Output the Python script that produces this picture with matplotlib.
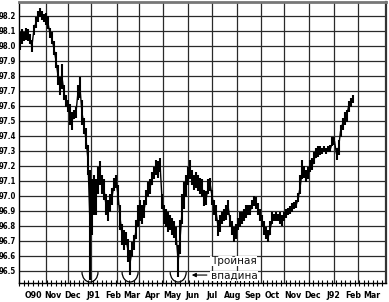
import numpy as np
import pandas as pd
import matplotlib
matplotlib.use("Agg")
import matplotlib.pyplot as plt
import matplotlib.dates as mdates
from matplotlib.patches import Arc

# ---- data (high / low of each bar) ----
highs = [98.09, 98.11, 98.09, 98.12, 98.11, 98.08, 98.04, 98.14, 98.19, 98.23,
         98.25, 98.23, 98.21, 98.22, 98.20, 98.12, 98.09, 98.03, 97.96, 97.87,
         97.79, 97.88, 97.74, 97.67, 97.64, 97.61, 97.56, 97.57, 97.59, 97.74,
         97.79, 97.64, 97.52, 97.45, 97.34, 97.17, 97.11, 97.14, 97.11, 97.19,
         97.23, 97.14, 97.11, 97.01, 96.97, 97.01, 97.05, 97.12, 97.14, 97.07,
         96.94, 96.81, 96.77, 96.76, 96.71, 96.64, 96.69, 96.74, 96.84, 96.94,
         96.97, 96.94, 96.97, 97.04, 97.09, 97.11, 97.16, 97.19, 97.24, 97.23,
         97.25, 97.01, 96.94, 96.91, 96.89, 96.87, 96.85, 96.83, 96.79, 96.67,
         96.84, 97.01, 97.09, 97.14, 97.19, 97.24, 97.17, 97.14, 97.16, 97.14,
         97.12, 97.11, 97.04, 97.03, 97.11, 97.12, 97.04, 96.97, 96.94, 96.84,
         96.87, 96.89, 96.91, 96.94, 96.97, 96.87, 96.83, 96.79, 96.81, 96.85,
         96.89, 96.89, 96.91, 96.94, 96.94, 96.94, 96.97, 97.00, 96.99, 96.95,
         96.91, 96.87, 96.83, 96.79, 96.77, 96.83, 96.89, 96.88, 96.89, 96.88,
         96.89, 96.87, 96.89, 96.91, 96.92, 96.93, 96.95, 96.96, 96.97, 97.02,
         97.14, 97.24, 97.20, 97.17, 97.19, 97.24, 97.25, 97.29, 97.32, 97.33,
         97.33, 97.32, 97.33, 97.32, 97.33, 97.34, 97.39, 97.39, 97.32, 97.37,
         97.47, 97.52, 97.56, 97.57, 97.63, 97.65, 97.67]
lows = [97.97, 98.01, 98.03, 98.04, 98.03, 98.01, 97.96, 98.07, 98.12, 98.16,
        98.19, 98.17, 98.16, 98.14, 98.11, 98.05, 98.01, 97.94, 97.85, 97.74,
        97.67, 97.71, 97.64, 97.59, 97.56, 97.47, 97.44, 97.51, 97.52, 97.64,
        97.65, 97.47, 97.41, 97.31, 97.14, 96.44, 96.74, 96.87, 96.87, 97.01,
        97.07, 97.01, 96.97, 96.87, 96.83, 96.89, 96.94, 97.03, 97.05, 96.94,
        96.77, 96.67, 96.64, 96.67, 96.56, 96.47, 96.59, 96.64, 96.71, 96.79,
        96.83, 96.81, 96.85, 96.94, 96.99, 97.01, 97.07, 97.11, 97.14, 97.12,
        97.16, 96.91, 96.81, 96.79, 96.76, 96.77, 96.74, 96.72, 96.67, 96.46,
        96.61, 96.81, 96.91, 96.99, 97.07, 97.11, 97.07, 97.04, 97.05, 97.03,
        97.01, 96.99, 96.93, 96.94, 97.01, 97.03, 96.94, 96.87, 96.83, 96.73,
        96.76, 96.81, 96.83, 96.84, 96.87, 96.79, 96.74, 96.69, 96.71, 96.77,
        96.79, 96.81, 96.83, 96.85, 96.87, 96.87, 96.91, 96.93, 96.91, 96.87,
        96.83, 96.79, 96.74, 96.71, 96.69, 96.74, 96.81, 96.83, 96.83, 96.83,
        96.81, 96.80, 96.83, 96.85, 96.87, 96.88, 96.89, 96.91, 96.92, 96.96,
        97.01, 97.11, 97.12, 97.09, 97.11, 97.16, 97.17, 97.21, 97.25, 97.26,
        97.27, 97.28, 97.29, 97.28, 97.29, 97.29, 97.33, 97.34, 97.24, 97.27,
        97.39, 97.44, 97.47, 97.49, 97.56, 97.59, 97.62]
first_bar = "1990-09-25"
last_bar = "1992-02-14"

month_labels = ["O90", "Nov", "Dec", "J91", "Feb", "Mar", "Apr", "May", "Jun",
                "Jul", "Aug", "Sep", "Oct", "Nov", "Dec", "J92", "Feb", "Mar"]
first_month = "1990-10-01"
y_ticks = [96.5, 96.6, 96.7, 96.8, 96.9, 97.0, 97.1, 97.2, 97.3, 97.4, 97.5,
           97.6, 97.7, 97.8, 97.9, 98.0, 98.1, 98.2]
trough_windows = [("1990-12-25", "1991-02-01"),
                  ("1991-02-20", "1991-03-31"),
                  ("1991-04-20", "1991-05-31")]
note_lines = ["Тройная", "впадина"]

# ---- figure ----
W, H = 389, 302
fig = plt.figure(figsize=(W / 100, H / 100), dpi=100)
ax = fig.add_axes([19 / W, (H - 283) / H, (386 - 19) / W, (283 - 2) / H])

dates = pd.date_range(first_bar, last_bar, periods=len(highs))
highs_a = np.array(highs)
lows_a = np.array(lows)

ax.set_xlim(pd.Timestamp("1990-09-23 17:00"), pd.Timestamp("1992-04-05"))
ax.set_ylim(96.42, 98.293)

# grid
for yv in y_ticks:
    ax.axhline(yv, color="#2a2a2a", lw=0.9, zorder=1)
grid_px = np.array([46, 68, 91, 117, 139, 163, 188, 212, 237, 261, 284, 309,
                    334, 358])
ax.vlines((grid_px - 19) / (386 - 19), 0, 1, transform=ax.transAxes,
          color="#2a2a2a", lw=0.9, zorder=1)

# bars
ax.vlines(dates, lows_a, highs_a, color="black", lw=1.5, zorder=3)
ax.plot(dates, (lows_a + highs_a) / 2, color="black", lw=1.0, zorder=3)

# arcs under the three troughs
xnum = mdates.date2num(dates)
day_w = 24.4
for a, b in trough_windows:
    m = (dates >= pd.Timestamp(a)) & (dates <= pd.Timestamp(b))
    idx = np.where(m)[0][np.argmin(lows_a[m])]
    arc = Arc((xnum[idx], 96.493), day_w, 0.133, theta1=180, theta2=360,
              color="black", lw=0.9, zorder=4)
    ax.add_patch(arc)

# annotation
ax.annotate("", xy=(pd.Timestamp("1991-06-14"), 96.473),
            xytext=(pd.Timestamp("1991-07-07"), 96.473),
            arrowprops=dict(arrowstyle="-|>", color="black", lw=0.8,
                            mutation_scale=6, shrinkA=0, shrinkB=0))
for txt, yv in zip(note_lines, [96.567, 96.467]):
    ax.text(pd.Timestamp("1991-07-13"), yv, txt, fontsize=7.5,
            va="center", ha="left", color="#111", zorder=5,
            bbox=dict(facecolor="white", edgecolor="none", pad=0.3))

# axes ticks
ax.set_yticks(y_ticks)
ax.set_yticklabels([f"{v:.1f}" for v in y_ticks], fontsize=5.6,
                   fontweight="bold", stretch="condensed")
ax.tick_params(axis="y", length=0, pad=2)

ax.xaxis.remove_overlapping_locs = False
weeks = pd.date_range("1990-09-24", "1992-04-05", freq="W-MON")
ax.set_xticks(weeks)
ax.set_xticklabels([])
ax.tick_params(axis="x", which="major", direction="inout", length=4,
               width=0.8, color="black")
months = pd.date_range(first_month, periods=len(month_labels), freq="MS")
ax.set_xticks(months + pd.Timedelta(days=14), minor=True)
ax.set_xticklabels(month_labels, minor=True, fontsize=6.3, fontweight="bold",
                   stretch="condensed")
ax.tick_params(axis="x", which="minor", length=0, pad=6)

for s in ["left", "bottom"]:
    ax.spines[s].set_color("black")
    ax.spines[s].set_linewidth(1.0)
ax.spines["top"].set_color("#777")
ax.spines["top"].set_linewidth(2.0)
ax.spines["right"].set_color("#333")
ax.spines["right"].set_linewidth(1.6)

fig.savefig("out.png", dpi=100)
